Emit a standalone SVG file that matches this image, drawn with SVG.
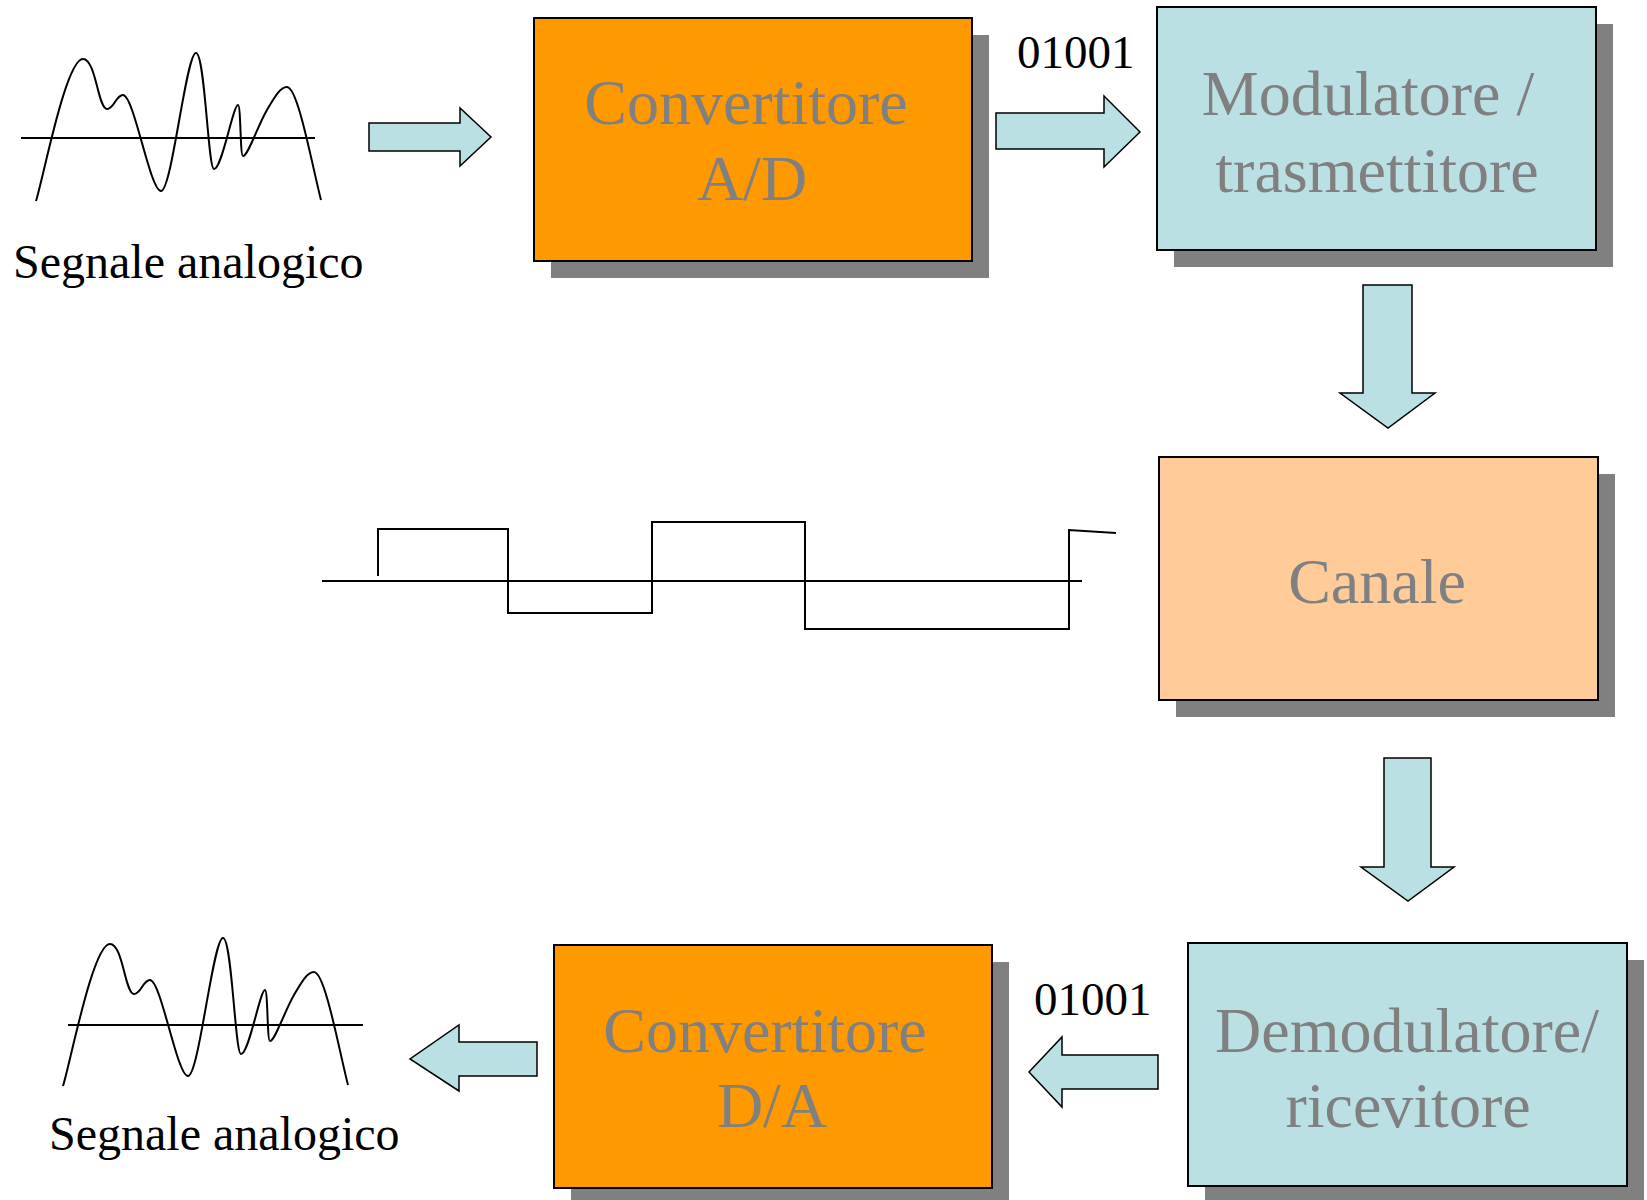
<svg xmlns="http://www.w3.org/2000/svg" width="1647" height="1200" viewBox="0 0 1647 1200">
<style>
.box{stroke:#000;stroke-width:2}
.shadow{fill:#808080}
.lbl{font-family:"Liberation Serif","Times New Roman",serif;font-size:64px;fill:#808080;text-anchor:middle}
.txt{font-family:"Liberation Serif","Times New Roman",serif;fill:#000}
.arrow{fill:#BBE0E3;stroke:#000;stroke-width:1.5;stroke-linejoin:miter}
.wave{fill:none;stroke:#000;stroke-width:2}
</style>
<defs>
<path id="curve" d="M36,201 C44,175 66,59 83,59 C96,59 98,109 107,109 C114,109 116,95 123,95 C134,95 150,191 161,191 C172,191 186,53 196,53 C205,53 208,169 214,169 C222,169 233,105 238,105 C241,105 240,156 243,156 C248,156 258,125 267,110 C274,98 280,87 287,87 C298,87 312,165 321,200"/>
</defs>
<rect width="1647" height="1200" fill="#fff"/>

<g id="signal-in">
<line class="wave" x1="21" y1="138" x2="315" y2="138"/>
<use href="#curve" class="wave"/>
<text class="txt" x="13" y="278" font-size="48">Segnale analogico</text>
</g>

<g id="convertitore-ad">
<rect class="shadow" x="551" y="35" width="438" height="243"/>
<rect class="box" x="534" y="18" width="438" height="243" fill="#FF9900"/>
<text class="lbl" x="746" y="124">Convertitore</text>
<text class="lbl" x="752" y="200">A/D</text>
</g>

<g id="modulatore">
<rect class="shadow" x="1174" y="24" width="439" height="243"/>
<rect class="box" x="1157" y="7" width="439" height="243" fill="#BBE0E3"/>
<text class="lbl" x="1368" y="115">Modulatore /</text>
<text class="lbl" x="1377" y="192">trasmettitore</text>
</g>

<g id="canale">
<rect class="shadow" x="1176" y="474" width="439" height="243"/>
<rect class="box" x="1159" y="457" width="439" height="243" fill="#FFCC99"/>
<text class="lbl" x="1377" y="603">Canale</text>
</g>

<g id="demodulatore">
<rect class="shadow" x="1205" y="960" width="439" height="243"/>
<rect class="box" x="1188" y="943" width="439" height="243" fill="#BBE0E3"/>
<text class="lbl" x="1407" y="1052">Demodulatore/</text>
<text class="lbl" x="1408" y="1127">ricevitore</text>
</g>

<g id="convertitore-da">
<rect class="shadow" x="571" y="962" width="438" height="243"/>
<rect class="box" x="554" y="945" width="438" height="243" fill="#FF9900"/>
<text class="lbl" x="765" y="1052">Convertitore</text>
<text class="lbl" x="772" y="1127">D/A</text>
</g>

<g id="signal-out">
<line class="wave" x1="68" y1="1025" x2="363" y2="1025"/>
<use href="#curve" class="wave" transform="translate(27,885)"/>
<text class="txt" x="49" y="1150" font-size="48">Segnale analogico</text>
</g>

<g id="digital-signal">
<line class="wave" x1="322" y1="581" x2="1082" y2="581"/>
<polyline class="wave" points="378,576 378,529 508,529 508,613 652,613 652,522 805,522 805,629 1069,629 1069,530 1116,533"/>
</g>

<g id="connectors">
<polygon class="arrow" points="369,123 460,123 460,108 491,137 460,166 460,151 369,151"/>
<polygon class="arrow" points="996,113 1104,113 1104,96 1140,132 1104,167 1104,149 996,149"/>
<polygon class="arrow" points="1363,285 1412,285 1412,393 1435,393 1388,428 1340,393 1363,393"/>
<polygon class="arrow" points="1384,758 1431,758 1431,867 1454,867 1408,901 1361,867 1384,867"/>
<polygon class="arrow" points="1158,1055 1062,1055 1062,1037 1029,1072 1062,1107 1062,1089 1158,1089"/>
<polygon class="arrow" points="537,1042 459,1042 459,1025 410,1059 459,1091 459,1076 537,1076"/>
<text class="txt" x="1017" y="68" font-size="47">01001</text>
<text class="txt" x="1034" y="1015" font-size="47">01001</text>
</g>
</svg>
